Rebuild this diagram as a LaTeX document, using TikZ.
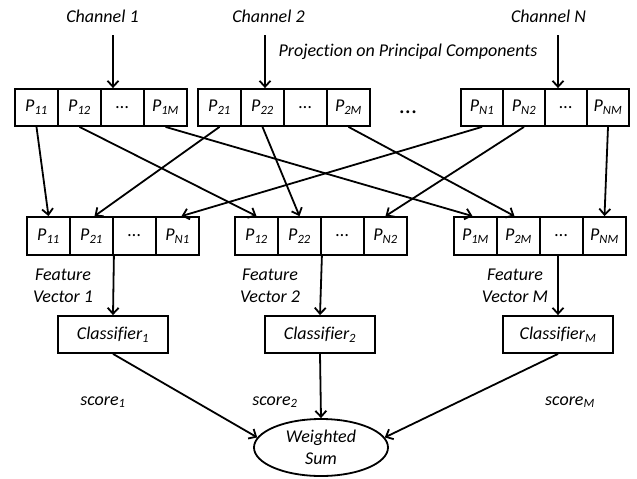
\documentclass[tikz,border=0pt]{standalone}
\usepackage{fontspec}
\setmainfont{Carlito}[Ligatures=NoCommon]
\usetikzlibrary{arrows.meta,shapes.geometric}

\tikzset{
  cell/.style={draw, line width=1.8pt, minimum width=43pt, minimum height=37pt, inner sep=0pt},
  cellb/.style={cell, minimum height=38pt},
  cellc/.style={cell, minimum width=42pt},
  clsbox/.style={draw, line width=1.8pt, minimum width=110pt, minimum height=37pt, inner sep=0pt},
  arr/.style={line width=1.8pt, -{Straight Barb[length=6pt,width=11pt]}},
  lbl/.style={inner sep=0pt, align=center},
}
\newcommand{\Pc}[1]{P\textsubscript{#1}}

\begin{document}
\begin{tikzpicture}[x=1pt, y=-1pt, font=\fontsize{18}{22}\selectfont\itshape]
\useasboundingbox (0,0) rectangle (637,479);

% channel labels
\node[lbl] (ch1) at (102.5,16) {Channel 1};
\node[lbl] (ch2) at (268.5,16) {Channel 2};
\node[lbl] (chn) at (548.5,16) {Channel N};
\node[lbl] (proj) at (408,52) {Projection on Principal Components};

% projections of each channel
\node[cell] (t11) at (36.5,107.5) {\Pc{11}};
\node[cell] (t12) at (79.5,107.5) {\Pc{12}};
\node[cell] (t1d) at (122.5,107.5) {...};
\node[cell] (t1m) at (165.5,107.5) {\Pc{1M}};

\node[cell] (t21) at (219.5,107.5) {\Pc{21}};
\node[cell] (t22) at (262.5,107.5) {\Pc{22}};
\node[cell] (t2d) at (305.5,107.5) {...};
\node[cell] (t2m) at (348.5,107.5) {\Pc{2M}};

\node[lbl, font=\fontsize{24}{24}\selectfont] (tdots) at (408,112) {...};

\node[cellc] (tn1) at (482,107.5) {\Pc{N1}};
\node[cellc] (tn2) at (524,107.5) {\Pc{N2}};
\node[cellc] (tnd) at (566,107.5) {...};
\node[cellc] (tnm) at (608,107.5) {\Pc{NM}};

% feature vectors
\node[cellb] (f11) at (48.5,236) {\Pc{11}};
\node[cellb] (f21) at (91.5,236) {\Pc{21}};
\node[cellb] (f1d) at (134.5,236) {...};
\node[cellb] (fn1) at (177.5,236) {\Pc{N1}};

\node[cellb] (f12) at (256.5,236) {\Pc{12}};
\node[cellb] (f22) at (299.5,236) {\Pc{22}};
\node[cellb] (f2d) at (342.5,236) {...};
\node[cellb] (fn2) at (385.5,236) {\Pc{N2}};

\node[cellb] (f1m) at (475.5,236) {\Pc{1M}};
\node[cellb] (f2m) at (518.5,236) {\Pc{2M}};
\node[cellb] (fmd) at (561.5,236) {...};
\node[cellb] (fnm) at (604.5,236) {\Pc{NM}};

\node[lbl] (fv1) at (63,286) {Feature\\Vector 1};
\node[lbl] (fv2) at (270,286) {Feature\\Vector 2};
\node[lbl] (fvm) at (515,286) {Feature\\Vector M};

% classifiers
\node[clsbox] (cls1) at (113,334.5) {Classifier\textsubscript{1}};
\node[clsbox] (cls2) at (320,334.5) {Classifier\textsubscript{2}};
\node[clsbox] (clsm) at (558,334.5) {Classifier\textsubscript{M}};

\node[lbl] (s1) at (103,402) {score\textsubscript{1}};
\node[lbl] (s2) at (275,402) {score\textsubscript{2}};
\node[lbl] (sm) at (570,402) {score\textsubscript{M}};

% fusion
\node[draw, ellipse, line width=1.8pt, minimum width=134pt, minimum height=57pt, inner sep=0pt, align=center] (ws) at (321,447.5) {Weighted\\Sum};

% channel inputs
\coordinate (a1) at (113,35);
\coordinate (a2) at (265,35);
\coordinate (an) at (558,35);
\draw[arr] (a1) -- (a1 |- t1d.north);
\draw[arr] (a2) -- (a2 |- t22.north);
\draw[arr] (an) -- (an |- tnd.north);

% regrouping of components
\draw[arr] (t11.south) -- (f11.north);
\draw[arr] (t12.south) -- (f12.north);
\draw[arr] (t1m.south) -- ([xshift=-3pt]f1m.north);
\draw[arr] (t21.south) -- ([xshift=3pt]f21.north);
\draw[arr] (t22.south) -- (f22.north);
\draw[arr] (t2m.south) -- ([xshift=-4pt]f2m.north);
\draw[arr] (tn1.south) -- ([xshift=4pt]fn1.north);
\draw[arr] (tn2.south) -- (fn2.north);
\draw[arr] (tnm.south) -- (fnm.north);

% feature vectors to classifiers
\draw[arr] (f21.south east) -- (cls1.north);
\draw[arr] (f22.south east) -- (cls2.north);
\draw[arr] (clsm.north |- fmd.south) -- (clsm.north);

% scores to weighted sum
\draw[arr] (cls1.south) -- (ws.171);
\draw[arr] (cls2.south) -- (ws.north);
\draw[arr] (clsm.south) -- (ws.9);
\end{tikzpicture}
\end{document}
